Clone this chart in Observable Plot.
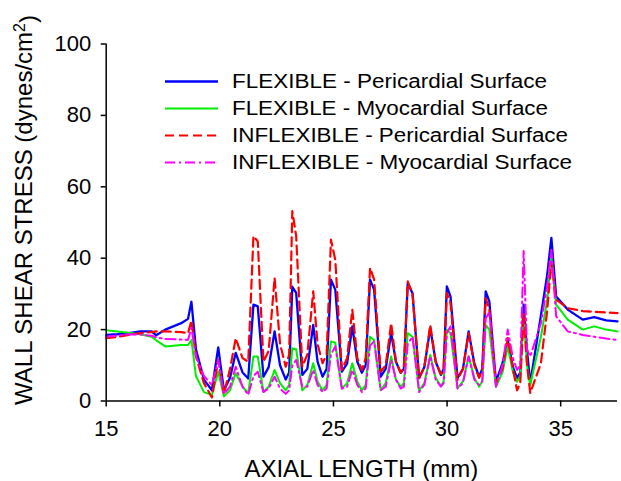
<!DOCTYPE html>
<html><head><meta charset="utf-8">
<script src="https://cdn.jsdelivr.net/npm/d3@7"></script>
<script src="https://cdn.jsdelivr.net/npm/@observablehq/plot@0.6"></script>
<style>
html,body{margin:0;padding:0;background:#fff;}
#wrap{position:relative;width:621px;height:481px;}
</style></head><body><div id="wrap"></div>
<script>
// Axial positions (mm)
const axialLength = [15.0,15.5,16.0,16.5,17.0,17.2,17.6,18.3,18.6,18.75,18.95,19.3,19.65,19.93,20.18,20.45,20.70,21.0,21.25,21.48,21.67,21.92,22.15,22.41,22.65,22.90,23.05,23.19,23.36,23.63,23.85,24.11,24.3,24.52,24.70,24.89,25.08,25.37,25.6,25.83,26.05,26.25,26.42,26.61,26.79,27.08,27.3,27.54,27.75,27.96,28.1,28.27,28.48,28.77,29.0,29.26,29.5,29.73,29.85,29.99,30.15,30.46,30.7,30.95,31.2,31.41,31.55,31.70,31.86,32.15,32.44,32.67,32.9,33.08,33.22,33.37,33.52,33.66,34.13,34.40,34.59,34.80,35.31,35.97,36.48,37.0,37.5];
// Wall shear stress (dynes/cm^2)
const flexPeri = [18.5,18.7,19.0,19.5,19.5,18.4,20.0,21.8,23.0,27.8,14.5,6.0,3.0,15.0,3.0,6.5,13.5,8.0,6.3,27.0,26.5,6.8,9.5,19.5,10.0,6.0,8.0,32.0,30.3,7.3,9.0,21.3,11.0,6.8,9.0,34.0,31.2,8.2,10.5,20.9,11.0,7.9,10.0,34.0,31.2,6.8,9.0,19.0,11.0,7.9,9.0,33.0,30.2,6.4,9.5,20.4,11.0,7.3,9.0,32.1,29.3,6.4,9.0,19.5,10.5,6.8,9.0,30.7,27.9,5.4,10.6,17.1,9.5,6.4,8.0,27.0,14.0,5.0,24.0,35.0,45.7,29.3,25.6,22.8,23.5,22.6,22.3];
const flexMyo = [19.8,19.5,19.1,18.7,18.0,17.0,15.3,15.7,15.7,17.1,7.0,2.5,1.7,8.2,1.3,3.0,7.8,4.0,2.2,12.5,12.5,2.6,4.0,8.7,5.0,3.0,4.5,14.8,14.5,3.0,4.5,10.6,5.5,3.0,4.5,16.7,16.3,3.5,5.0,10.6,5.5,3.0,4.5,18.0,17.1,3.0,5.0,12.5,6.0,4.0,5.0,19.0,18.0,3.0,5.0,12.9,6.5,4.2,5.5,20.0,19.0,3.6,5.5,12.5,6.5,4.0,5.5,21.3,20.0,4.0,8.0,15.3,8.0,5.4,7.0,23.7,10.0,4.5,18.0,28.0,40.5,27.0,22.8,20.0,20.9,20.0,19.5];
const inflexPeri = [17.6,18.0,18.5,19.0,19.3,19.5,19.5,19.3,19.0,22.5,12.5,5.0,1.0,11.5,2.0,9.0,17.6,12.0,11.0,46.2,44.7,11.0,14.0,34.5,16.0,9.6,13.0,53.2,46.2,9.6,13.0,30.7,16.0,10.6,13.0,45.2,39.6,8.7,12.0,25.6,12.0,8.7,12.0,37.3,34.0,8.2,10.0,21.8,11.0,7.9,9.5,33.5,30.0,6.5,9.5,21.3,11.0,7.5,9.0,30.2,27.5,5.9,9.0,19.0,10.0,6.5,9.0,28.8,25.6,5.0,9.0,17.6,9.0,3.0,5.0,24.6,10.0,2.2,10.6,25.0,39.0,28.4,26.0,25.2,25.0,24.8,24.6];
const inflexMyo = [18.0,18.3,18.7,18.6,18.3,17.8,17.4,17.2,17.1,20.5,12.5,7.0,4.5,11.5,2.0,4.0,9.6,4.0,1.7,7.0,8.2,2.5,3.5,6.8,3.5,2.0,3.0,10.0,11.5,4.0,4.0,8.7,4.5,2.5,3.5,13.0,15.3,3.5,4.0,8.7,4.5,2.5,3.5,15.5,16.7,3.0,4.0,11.5,6.0,3.5,4.0,16.0,18.0,2.5,4.5,12.5,6.0,4.0,5.0,19.0,20.9,3.5,5.0,12.5,6.0,4.5,5.5,23.0,25.0,4.0,10.0,20.0,12.0,8.7,10.0,42.0,14.3,12.5,21.8,32.0,42.4,23.7,19.5,18.5,18.0,17.5,17.1];

const seriesNames = ["FLEXIBLE - Pericardial Surface","FLEXIBLE - Myocardial Surface","INFLEXIBLE - Pericardial Surface","INFLEXIBLE - Myocardial Surface"];
const seriesValues = [flexPeri, flexMyo, inflexPeri, inflexMyo];
const seriesColors = ["#0000ff","#00ee00","#ff0000","#ff00ff"];
const seriesDash = [null, null, "9,5", "10,4,2,4"];
const seriesWidth = [2.3, 2, 2.2, 2];
const legendTextWidth = [315, 316, 336, 340];
const xTicks = [15,20,25,30,35];
const yTicks = [0,20,40,60,80,100];
const xTitle = "AXIAL LENGTH (mm)";
const yTitle = "WALL SHEAR STRESS (dynes/cm";

const FONT = "'Liberation Sans', Arial, sans-serif";
const ML = 105.7, MR = 4, MT = 43.5, MB = 80.5, W = 621, H = 481;

const lineMarks = seriesNames.map((name, i) => {
  const d = axialLength.map((x, j) => ({x, y: seriesValues[i][j]}));
  return Plot.line(d, {x: "x", y: "y", stroke: seriesColors[i], strokeWidth: seriesWidth[i],
    strokeDasharray: seriesDash[i] || undefined, strokeLinejoin: "round"});
});

const chart = Plot.plot({
  width: W, height: H,
  marginLeft: ML, marginRight: MR, marginTop: MT, marginBottom: MB,
  style: {fontFamily: FONT, color: "#000", background: "#fff", overflow: "visible"},
  x: {domain: [15, 37.5]},
  y: {domain: [0, 100]},
  marks: [
    ...lineMarks,
    Plot.axisX({ticks: xTicks, tickSize: 6, tickPadding: 13, fontSize: 22, label: null, strokeWidth: 1.5}),
    Plot.axisY({ticks: yTicks, tickSize: 5, tickPadding: 10, fontSize: 22, label: null, strokeWidth: 1.5}),
    Plot.ruleY([0], {strokeWidth: 1.5}),
    Plot.ruleX([15], {strokeWidth: 1.5})
  ]
});

const svg = d3.select(chart);
// axis titles
svg.append("text").attr("x", (ML + W - MR) / 2).attr("y", 477).attr("text-anchor", "middle")
  .attr("font-family", FONT).attr("font-size", 24).attr("fill", "#000").text(xTitle);
const yt = svg.append("text").attr("transform", "translate(32,210) rotate(-90)").attr("text-anchor", "middle")
  .attr("font-family", FONT).attr("font-size", 24).attr("fill", "#000");
yt.append("tspan").text(yTitle);
yt.append("tspan").attr("dy", "-0.45em").attr("font-size", 16).text("2");
yt.append("tspan").attr("dy", "0.45em").text(")");

// legend
const lg = svg.append("g").attr("font-family", FONT).attr("font-size", 19.5).attr("text-anchor", "start");
seriesNames.forEach((name, i) => {
  const cy = 81.5 + i * 27;
  lg.append("line").attr("x1", 165).attr("x2", 218).attr("y1", cy).attr("y2", cy)
    .attr("stroke", seriesColors[i]).attr("stroke-width", seriesWidth[i])
    .attr("stroke-dasharray", seriesDash[i]);
  lg.append("text").attr("x", 232).attr("y", cy).attr("dy", "0.35em").attr("fill", "#000")
    .attr("text-anchor", "start").attr("textLength", legendTextWidth[i])
    .attr("lengthAdjust", "spacingAndGlyphs").text(name);
});

document.getElementById("wrap").appendChild(chart);
</script></body></html>
